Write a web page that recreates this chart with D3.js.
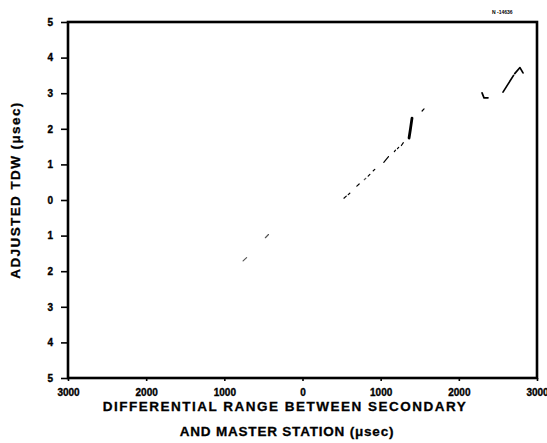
<!DOCTYPE html>
<html>
<head>
<meta charset="utf-8">
<script src="https://cdn.jsdelivr.net/npm/d3@7"></script>
<style>
  body { margin: 0; background: #fff; }
  svg { display: block; }
  .tick text { font-family: "Liberation Sans", Arial, sans-serif; font-weight: bold; font-size: 10px; fill: #000; stroke: #000; stroke-width: 0.35px; }
  .title { font-family: "Liberation Sans", Arial, sans-serif; font-weight: bold; font-size: 13.5px; fill: #000; stroke: #000; stroke-width: 0.3px; }
</style>
</head>
<body>
<svg id="chart" width="547" height="443"></svg>
<script>
/** ------------- DATA ---------------------------------- */

// differential range between secondary and master station (usec)
const rangeDiff = [
    -760, -715,
    -475, -435,
    530, 560,
    585, 605,
    695, 725,
    790, 810,
    840, 862,
    905, 925,
    1040, 1100,
    1175, 1190,
    1215, 1230,
    1265, 1290,
    1363, 1380, 1401,
    1530, 1555,
    2297, 2322, 2373,
    2565, 2700,
    2715, 2782, 2821
];
// adjusted TDW (usec)
const tdw = [
    -1.71, -1.62,
    -1.06, -0.97,
    0.05, 0.11,
    0.15, 0.19,
    0.39, 0.45,
    0.57, 0.61,
    0.67, 0.72,
    0.82, 0.86,
    1.06, 1.22,
    1.36, 1.40,
    1.44, 1.48,
    1.53, 1.61,
    1.74, 1.98, 2.30,
    2.50, 2.56,
    3.01, 2.87, 2.87,
    3.03, 3.50,
    3.55, 3.72, 3.57
];
// which trace piece each point belongs to
const trace = [
    0, 0,
    1, 1,
    2, 2,
    3, 3,
    4, 4,
    5, 5,
    6, 6,
    7, 7,
    8, 8,
    9, 9,
    10, 10,
    11, 11,
    12, 12, 12,
    13, 13,
    14, 14, 14,
    15, 15,
    16, 16, 16
];

const xTicks = [-3000, -2000, -1000, 0, 1000, 2000, 3000];
const yTicks = [5, 4, 3, 2, 1, 0, -1, -2, -3, -4, -5];

/** ------------- D3 GRAPH -------------- */

const svg = d3.select("#chart");

const x = d3.scaleLinear().domain([-3000, 3000]).range([68, 537]);
const y = d3.scaleLinear().domain([-5, 5]).range([378, 22]);

// axes, labels are shown without sign
const xAxis = d3.axisBottom(x)
    .tickValues(xTicks)
    .tickFormat((d) => Math.abs(d))
    .tickSize(3)
    .tickPadding(8);
const yAxis = d3.axisLeft(y)
    .tickValues(yTicks)
    .tickFormat((d) => Math.abs(d))
    .tickSize(7)
    .tickPadding(8);

const gx = svg.append("g")
    .attr("transform", `translate(0,${y(-5)})`)
    .call(xAxis);
const gy = svg.append("g")
    .attr("transform", `translate(${x(-3000)},0)`)
    .call(yAxis);

[gx, gy].forEach((g) => {
    g.select(".domain").remove();
    g.selectAll(".tick line").attr("stroke", "#000").attr("stroke-width", 1.6);
});

// heavy frame round the plot
svg.append("rect")
    .attr("x", x(-3000))
    .attr("y", y(5))
    .attr("width", x(3000) - x(-3000))
    .attr("height", y(-5) - y(5))
    .attr("fill", "none")
    .attr("stroke", "#000")
    .attr("stroke-width", 2.6);

// data trace, drawn piece by piece
const points = rangeDiff.map((r, i) => ({ r: r, t: tdw[i], k: trace[i] }));
const pieces = d3.groups(points, (d) => d.k);
const heavy = [12, 14, 15, 16];

const line = d3.line()
    .x((d) => x(d.r))
    .y((d) => y(d.t));

svg.append("g")
    .selectAll("path")
    .data(pieces)
    .join("path")
    .attr("d", (p) => line(p[1]))
    .attr("fill", "none")
    .attr("stroke", (p) => (p[0] < 2 || p[0] === 5 ? "#555" : "#000"))
    .attr("stroke-width", (p) => (p[0] === 12 ? 2.8 : heavy.includes(p[0]) ? 1.7 : 1.2))
    .attr("stroke-linecap", "round")
    .attr("stroke-linejoin", "round");

// axis titles
svg.append("text")
    .attr("class", "title")
    .attr("text-anchor", "middle")
    .attr("transform", "translate(20,190) rotate(-90)")
    .style("letter-spacing", "1.4px")
    .text("ADJUSTED TDW (\u03bcsec)");

svg.append("text")
    .attr("class", "title")
    .attr("text-anchor", "middle")
    .attr("x", 285)
    .attr("y", 411)
    .style("letter-spacing", "1.5px")
    .text("DIFFERENTIAL RANGE BETWEEN SECONDARY");

svg.append("text")
    .attr("class", "title")
    .attr("text-anchor", "middle")
    .attr("x", 287)
    .attr("y", 436)
    .style("letter-spacing", "0.8px")
    .text("AND MASTER STATION (\u03bcsec)");

// figure number in the corner
svg.append("text")
    .attr("x", 492)
    .attr("y", 14)
    .style("font-family", "Liberation Sans, Arial, sans-serif")
    .style("font-size", "5px")
    .style("font-weight", "bold")
    .text("N  -14636");
</script>
</body>
</html>
